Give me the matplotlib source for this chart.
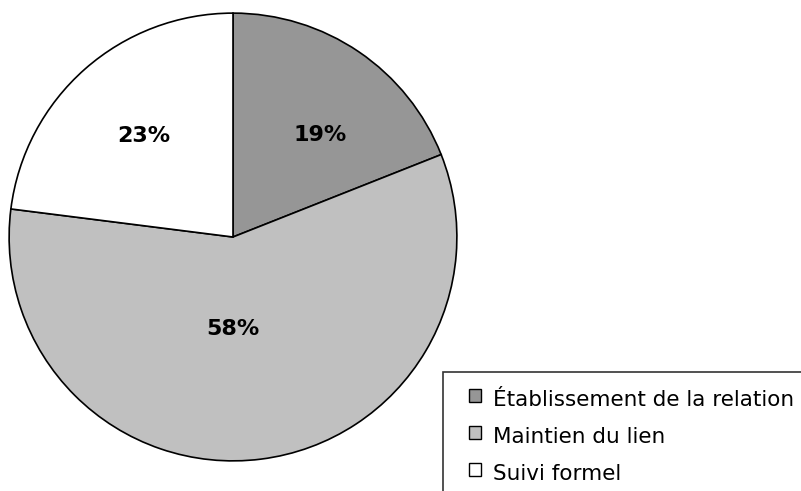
import matplotlib
matplotlib.use("Agg")
import matplotlib.pyplot as plt
import matplotlib.patches as mpatches
from matplotlib.legend_handler import HandlerPatch
import numpy as np

categories = ["Établissement de la relation", "Maintien du lien", "Suivi formel"]
values = [19, 58, 23]
colors = ["#969696", "#C0C0C0", "#FFFFFF"]
label_radius = [0.60, 0.41, 0.60]
label_angle_shift = [-6.3, -7.2, 0.0]

W, H = 801, 491
fig = plt.figure(figsize=(W / 100, H / 100), dpi=100)
cx, cy, r = 233, 237, 225
ax = fig.add_axes([(cx - r) / W, (H - cy - r) / H, 2 * r / W, 2 * r / H])

wedges, _ = ax.pie(values, colors=colors, startangle=90, counterclock=False,
                   wedgeprops=dict(edgecolor="black", linewidth=1.2),
                   radius=1.0)
for w, v, lr, sh in zip(wedges, values, label_radius, label_angle_shift):
    ang = np.deg2rad((w.theta1 + w.theta2) / 2 + sh)
    ax.text(lr * np.cos(ang), lr * np.sin(ang), f"{v}%", ha="center", va="center",
            fontsize=16, fontweight="bold", family="DejaVu Sans")
ax.set_xlim(-1.005, 1.005)
ax.set_ylim(-1.005, 1.005)
ax.set_aspect("equal")


def small_square(legend, orig_handle, xdescent, ydescent, width, height, fontsize):
    s = 12.5 * 72 / 100
    return mpatches.Rectangle((xdescent + width - s, ydescent + (height - s) / 2 + 1), s, s)


leg = fig.legend(wedges, categories, loc="upper left",
                 bbox_to_anchor=(443 / W, 1 - 372 / H, (830 - 443) / W, 0.0),
                 mode="expand", borderaxespad=0,
                 frameon=True, fancybox=False,
                 handlelength=0.95, handleheight=0.8, handletextpad=0.55,
                 labelspacing=0.8, borderpad=0.82,
                 prop=dict(family="DejaVu Sans", size=15.5),
                 handler_map={mpatches.Wedge: HandlerPatch(patch_func=small_square)})
leg.get_frame().set_edgecolor("black")
leg.get_frame().set_linewidth(1.2)
for h in leg.legend_handles:
    h.set_linewidth(1.0)
    h.set_edgecolor("black")

fig.savefig("out.png", dpi=100)
